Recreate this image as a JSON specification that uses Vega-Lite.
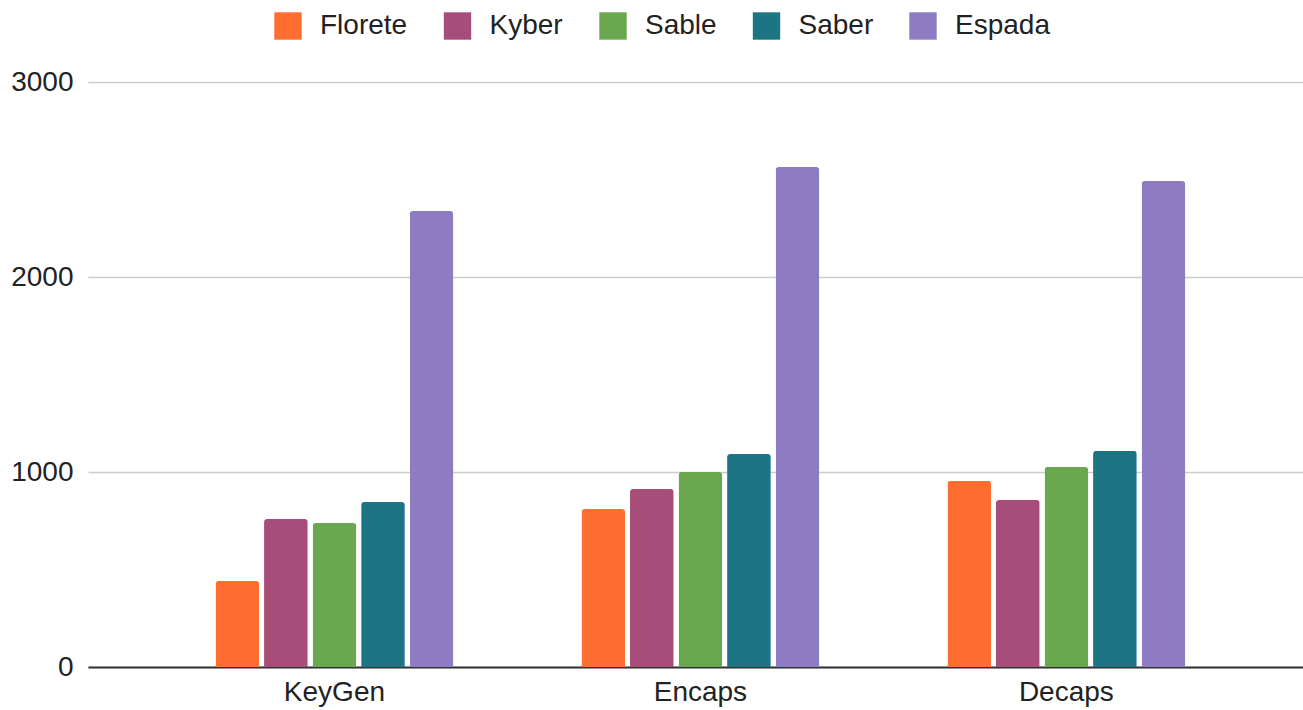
{
  "$schema": "https://vega.github.io/schema/vega-lite/v6.json",
  "autosize": {"type": "none"},
  "padding": {"left": 88, "top": 82, "right": 0, "bottom": 43},
  "width": 1215,
  "height": 585,
  "background": "white",
  "config": {
    "font": "Liberation Sans",
    "view": {"stroke": null}
  },
  "data": {
    "values": [
      {"op": "KeyGen", "scheme": "Florete", "value": 441},
      {"op": "KeyGen", "scheme": "Kyber", "value": 759},
      {"op": "KeyGen", "scheme": "Sable", "value": 738},
      {"op": "KeyGen", "scheme": "Saber", "value": 846},
      {"op": "KeyGen", "scheme": "Espada", "value": 2338},
      {"op": "Encaps", "scheme": "Florete", "value": 810},
      {"op": "Encaps", "scheme": "Kyber", "value": 913},
      {"op": "Encaps", "scheme": "Sable", "value": 1000},
      {"op": "Encaps", "scheme": "Saber", "value": 1092},
      {"op": "Encaps", "scheme": "Espada", "value": 2564},
      {"op": "Decaps", "scheme": "Florete", "value": 954},
      {"op": "Decaps", "scheme": "Kyber", "value": 856},
      {"op": "Decaps", "scheme": "Sable", "value": 1026},
      {"op": "Decaps", "scheme": "Saber", "value": 1108},
      {"op": "Decaps", "scheme": "Espada", "value": 2492}
    ]
  },
  "mark": {"type": "bar", "cornerRadiusTopLeft": 3, "cornerRadiusTopRight": 3},
  "encoding": {
    "x": {
      "field": "op", "type": "nominal",
      "sort": ["KeyGen", "Encaps", "Decaps"],
      "scale": {"paddingInner": 0.35, "paddingOuter": 0.335, "align": 0.52},
      "axis": {
        "title": null, "labelAngle": 0, "ticks": false,
        "domainColor": "#333333", "domainWidth": 2,
        "labelFontSize": 28, "labelColor": "#222222", "labelPadding": 11
      }
    },
    "xOffset": {
      "field": "scheme", "type": "nominal",
      "sort": ["Florete", "Kyber", "Sable", "Saber", "Espada"],
      "scale": {"paddingInner": 0.1, "paddingOuter": 0}
    },
    "y": {
      "field": "value", "type": "quantitative",
      "scale": {"domain": [0, 3000], "nice": false},
      "axis": {
        "title": null, "values": [0, 1000, 2000, 3000], "format": "d",
        "domain": false, "ticks": false,
        "gridColor": "#cccccc", "gridWidth": 1.5,
        "labelFontSize": 28, "labelColor": "#222222", "labelPadding": 15
      }
    },
    "color": {
      "field": "scheme", "type": "nominal",
      "sort": ["Florete", "Kyber", "Sable", "Saber", "Espada"],
      "scale": {
        "domain": ["Florete", "Kyber", "Sable", "Saber", "Espada"],
        "range": ["#ff6d31", "#a64d79", "#6aa84f", "#1d7583", "#8e7cc3"]
      },
      "legend": {
        "title": null, "orient": "none", "direction": "horizontal",
        "legendX": 186, "legendY": -70,
        "symbolType": "square", "symbolSize": 750, "symbolStrokeWidth": 0,
        "symbolOpacity": 1,
        "labelFontSize": 28, "labelColor": "#222222", "labelOffset": 18,
        "columnPadding": 35.5
      }
    }
  }
}
